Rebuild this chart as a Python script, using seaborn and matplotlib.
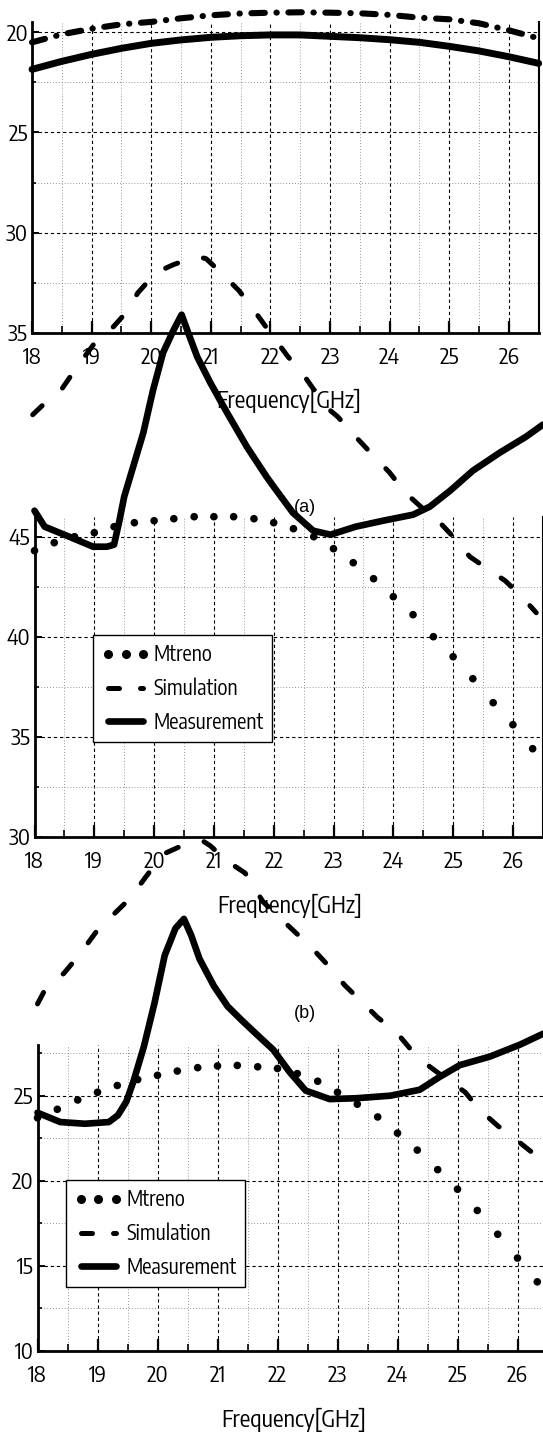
import matplotlib
matplotlib.use("Agg")
import matplotlib.pyplot as plt
from matplotlib.lines import Line2D
from matplotlib.ticker import MultipleLocator
from matplotlib import font_manager
import numpy as np
import pandas as pd
import seaborn as sns

# ---------------- data ----------------
x_ticks = [18, 19, 20, 21, 22, 23, 24, 25, 26]
top_yticks = [20, 25, 30, 35]
mid_yticks = [30, 35, 40, 45]
bot_yticks = [10, 15, 20, 25]
legend_labels = ["Mtreno", "Simulation", "Measurement"]
xlabel_text = "Frequency[GHz]"

# top panel
top_dd_f = [18.0, 18.5, 19.0, 19.5, 20.0, 20.5, 21.0, 21.5, 22.0, 22.5, 23.0, 23.5, 24.0, 24.5, 25.0, 25.5, 26.0, 26.5]
top_dd_v = [20.5, 20.1, 19.82, 19.6, 19.48, 19.3, 19.15, 19.06, 19.02, 19.0, 19.02, 19.05, 19.13, 19.27, 19.35, 19.55, 19.9, 20.3]
top_solid_f = [18.0, 18.5, 19.0, 19.5, 20.0, 20.5, 21.0, 21.5, 22.0, 22.5, 23.0, 23.5, 24.0, 24.5, 25.0, 25.5, 26.0, 26.5]
top_solid_v = [21.85, 21.45, 21.1, 20.8, 20.55, 20.38, 20.25, 20.17, 20.13, 20.13, 20.2, 20.27, 20.37, 20.5, 20.7, 20.93, 21.22, 21.55]

# moreno frequency grid
moreno_f = [18.0, 18.33, 18.67, 19.0, 19.33, 19.67, 20.0, 20.33, 20.67, 21.0, 21.33, 21.67, 22.0,
            22.33, 22.67, 23.0, 23.33, 23.67, 24.0, 24.33, 24.67, 25.0, 25.33, 25.67, 26.0, 26.33]

# panel (a)
a_moreno = [44.3, 44.7, 45.0, 45.2, 45.5, 45.7, 45.8, 45.9, 46.0, 46.0, 46.0, 45.9, 45.7,
            45.4, 45.0, 44.4, 43.7, 42.9, 42.0, 41.1, 40.0, 39.0, 37.9, 36.7, 35.6, 34.4]
a_sim_f = [17.97, 18.18, 18.46, 18.69, 19.01, 19.23, 19.50, 19.73, 20.03, 20.32, 20.60, 20.73, 20.87,
           21.12, 21.42, 21.70, 21.94, 22.24, 22.52, 22.87, 23.07, 23.37, 23.62, 23.94, 24.20, 24.46,
           24.75, 25.00, 25.28, 25.62, 25.87, 26.15, 26.39]
a_sim_v = [51.1, 51.7, 52.4, 53.4, 54.7, 55.2, 56.1, 57.2, 58.2, 58.6, 58.9, 59.0, 58.9,
           58.2, 57.3, 56.2, 55.2, 54.0, 53.0, 51.5, 51.0, 50.0, 49.2, 48.2, 47.2, 46.5,
           45.8, 45.0, 44.0, 43.3, 42.8, 42.0, 41.2]
a_meas_f = [18.0, 18.17, 18.58, 18.98, 19.21, 19.33, 19.42, 19.5, 19.65, 19.82, 19.98, 20.15, 20.32,
            20.46, 20.57, 20.72, 20.94, 21.22, 21.55, 21.88, 22.0, 22.32, 22.66, 22.95, 23.37, 23.83,
            24.33, 24.61, 24.95, 25.33, 25.78, 26.22, 26.5]
a_meas_v = [46.3, 45.5, 45.0, 44.5, 44.5, 44.6, 45.8, 47.0, 48.5, 50.2, 52.3, 54.2, 55.3,
            56.1, 55.2, 54.0, 52.7, 51.2, 49.5, 48.0, 47.5, 46.2, 45.3, 45.1, 45.5, 45.8,
            46.1, 46.5, 47.3, 48.3, 49.2, 50.0, 50.6]

# panel (b)
b_moreno = [23.7, 24.2, 24.75, 25.2, 25.6, 25.95, 26.2, 26.45, 26.65, 26.75, 26.78, 26.7, 26.6,
            26.3, 25.85, 25.2, 24.5, 23.75, 22.8, 21.8, 20.65, 19.5, 18.25, 16.85, 15.45, 14.05]
b_sim_f = [18.0, 18.12, 18.44, 18.7, 18.97, 19.22, 19.54, 19.79, 20.09, 20.34, 20.63, 20.75, 20.88,
           21.16, 21.46, 21.76, 22.0, 22.3, 22.57, 22.86, 23.12, 23.41, 23.67, 23.99, 24.25, 24.54,
           24.81, 25.13, 25.36, 25.68, 25.91, 26.23, 26.45]
b_sim_v = [30.4, 31.2, 32.2, 33.3, 34.6, 35.5, 36.6, 37.8, 39.2, 39.6, 39.9, 40.0, 39.7,
           38.8, 38.1, 36.4, 35.6, 34.6, 33.7, 32.6, 31.5, 30.5, 29.6, 28.7, 27.6, 26.7,
           26.0, 25.2, 24.2, 23.2, 22.6, 21.7, 20.4]
b_meas_f = [18.0, 18.38, 18.79, 19.19, 19.34, 19.48, 19.6, 19.77, 19.95, 20.12, 20.3, 20.44, 20.56,
            20.7, 20.94, 21.17, 21.4, 21.64, 21.93, 22.2, 22.47, 22.87, 23.31, 23.88, 24.37, 24.7,
            25.04, 25.54, 26.04, 26.37, 26.5]
b_meas_v = [24.0, 23.45, 23.35, 23.45, 23.85, 24.65, 25.85, 27.85, 30.45, 33.25, 34.85, 35.4, 34.45,
            33.05, 31.45, 30.25, 29.45, 28.65, 27.7, 26.4, 25.3, 24.8, 24.85, 25.0, 25.35, 26.1,
            26.8, 27.3, 28.0, 28.55, 28.75]

# ---------------- style ----------------
sns.set_theme(style="white")

# look for a condensed sans font; fall back to Liberation Sans
cond_family, cond_stretch = None, "normal"
for f in font_manager.fontManager.ttflist:
    nm = f.name
    st = str(f.stretch)
    if ("Narrow" in nm or "Condensed" in nm) and "Sans" in nm and f.style == "normal":
        cond_family, cond_stretch = nm, st
        break
if cond_family is None:
    for f in font_manager.fontManager.ttflist:
        if f.name in ("DejaVu Sans", "Liberation Sans") and str(f.stretch) in ("condensed", "semi-condensed", "extra-condensed"):
            cond_family, cond_stretch = f.name, str(f.stretch)
            break
have_cond = cond_family is not None
if not have_cond:
    cond_family = "Liberation Sans"
plt.rcParams["font.family"] = [cond_family, "DejaVu Sans"]
plt.rcParams["font.stretch"] = cond_stretch
plt.rcParams["text.color"] = "black"
plt.rcParams["xtick.color"] = "black"
plt.rcParams["ytick.color"] = "black"

TICKFS = 16 if have_cond else 14
LEGFS = 15 if have_cond else 13
LABFS = 17 if have_cond else 15

W, H = 543, 1435
fig = plt.figure(figsize=(W / 100, H / 100), dpi=100, facecolor="white")


def rect(l, t, r, b):
    return [l / W, 1 - b / H, (r - l) / W, (b - t) / H]


ax_top = fig.add_axes(rect(32, 22.3, 538.7, 332.7))
ax_mid = fig.add_axes(rect(34.5, 516.7, 542.8, 836.7))
ax_bot = fig.add_axes(rect(37.5, 1044.7, 547.5, 1350.7))


def style(ax, yticks, ylim):
    ax.set_facecolor("none")
    ax.set_xlim(18, 26.5)
    ax.set_ylim(*ylim)
    ax.set_xticks(x_ticks)
    ax.xaxis.set_minor_locator(MultipleLocator(0.5))
    ax.set_yticks(yticks)
    ax.yaxis.set_minor_locator(MultipleLocator(2.5))
    ax.grid(which="major", color="black", linestyle=(0, (3, 2.5)), linewidth=0.8)
    ax.grid(which="minor", color="0.45", linestyle=(0, (1, 2.5)), linewidth=0.6)
    ax.set_axisbelow(True)
    ax.tick_params(axis="x", which="major", direction="in", length=9, width=1.6,
                   pad=10, labelsize=TICKFS, bottom=True, left=False)
    ax.tick_params(axis="x", which="minor", direction="in", length=5, width=1.2, bottom=True)
    ax.tick_params(axis="y", which="major", direction="in", length=5, width=1.4,
                   pad=3, labelsize=TICKFS, left=True)
    ax.tick_params(axis="y", which="minor", direction="in", length=3, width=1.2, left=True)
    for s in ["left", "bottom"]:
        ax.spines[s].set_color("black")
        ax.spines[s].set_linewidth(2.0)
    ax.spines["right"].set_color("black")
    ax.spines["right"].set_linewidth(1.5)
    ax.spines["top"].set_visible(False)


style(ax_top, top_yticks, (35, 19.5))
style(ax_mid, mid_yticks, (30, 46))
style(ax_bot, bot_yticks, (10, 28))

SIM_LW = 3.6
DASH = (0, (2.6, 5.4))
DASHDOT = (0, (2.2, 1.9, 0.05, 1.9))

# top panel
sns.lineplot(x=top_dd_f, y=top_dd_v, ax=ax_top, color="black", linewidth=4.4,
             linestyle=DASHDOT, dash_capstyle="round", clip_on=False)
sns.lineplot(x=top_solid_f, y=top_solid_v, ax=ax_top, color="black", linewidth=5.0,
             clip_on=False)

# panel (a)
sns.lineplot(x=a_sim_f, y=a_sim_v, ax=ax_mid, color="black", linewidth=SIM_LW,
             linestyle=DASH, dash_capstyle="round", clip_on=False, sort=False)
sns.lineplot(x=a_meas_f, y=a_meas_v, ax=ax_mid, color="black", linewidth=4.8,
             clip_on=False, sort=False)
sns.scatterplot(x=moreno_f, y=a_moreno, ax=ax_mid, color="black", s=30,
                edgecolor="none", clip_on=False)

# panel (b)
sns.lineplot(x=b_sim_f, y=b_sim_v, ax=ax_bot, color="black", linewidth=SIM_LW,
             linestyle=DASH, dash_capstyle="round", clip_on=False, sort=False)
sns.lineplot(x=b_meas_f, y=b_meas_v, ax=ax_bot, color="black", linewidth=4.8,
             clip_on=False, sort=False)
sns.scatterplot(x=moreno_f, y=b_moreno, ax=ax_bot, color="black", s=30,
                edgecolor="none", clip_on=False)

for ax in (ax_top, ax_mid, ax_bot):
    ax.set_xlabel("")
    ax.set_ylabel("")


def handles():
    return [
        Line2D([], [], color="black", marker="o", markersize=5.5, linestyle="none"),
        Line2D([], [], color="black", linewidth=SIM_LW, linestyle=(0, (2.2, 4.2)), dash_capstyle="round"),
        Line2D([], [], color="black", linewidth=4.8),
    ]


def add_legend(ax, left_px, top_px):
    leg = ax.legend(handles(), legend_labels, loc="upper left",
                    bbox_to_anchor=(left_px / W, 1 - top_px / H), bbox_transform=fig.transFigure,
                    borderaxespad=0, fontsize=LEGFS, handlelength=2.3, handletextpad=0.2,
                    labelspacing=0.55, borderpad=0.4, numpoints=3, frameon=True,
                    fancybox=False, framealpha=1, facecolor="white", edgecolor="black")
    leg.get_frame().set_linewidth(1.0)
    leg.set_zorder(10)
    return leg


add_legend(ax_mid, 93.3, 635)
add_legend(ax_bot, 66, 1180)

# axis labels and panel tags
for cx, cy in [(289, 401), (290, 906), (294, 1420)]:
    fig.text(cx / W, 1 - cy / H, xlabel_text, ha="center", va="center", fontsize=LABFS, zorder=-1)

fig.text(305 / W, 1 - 508 / H, "(a)", ha="center", va="center", fontsize=13,
         family=["Liberation Sans", "DejaVu Sans"], stretch="normal", zorder=-1)
fig.text(305 / W, 1 - 1013 / H, "(b)", ha="center", va="center", fontsize=13,
         family=["Liberation Sans", "DejaVu Sans"], stretch="normal", zorder=-1)

fig.savefig("out.png", dpi=100, facecolor="white")
